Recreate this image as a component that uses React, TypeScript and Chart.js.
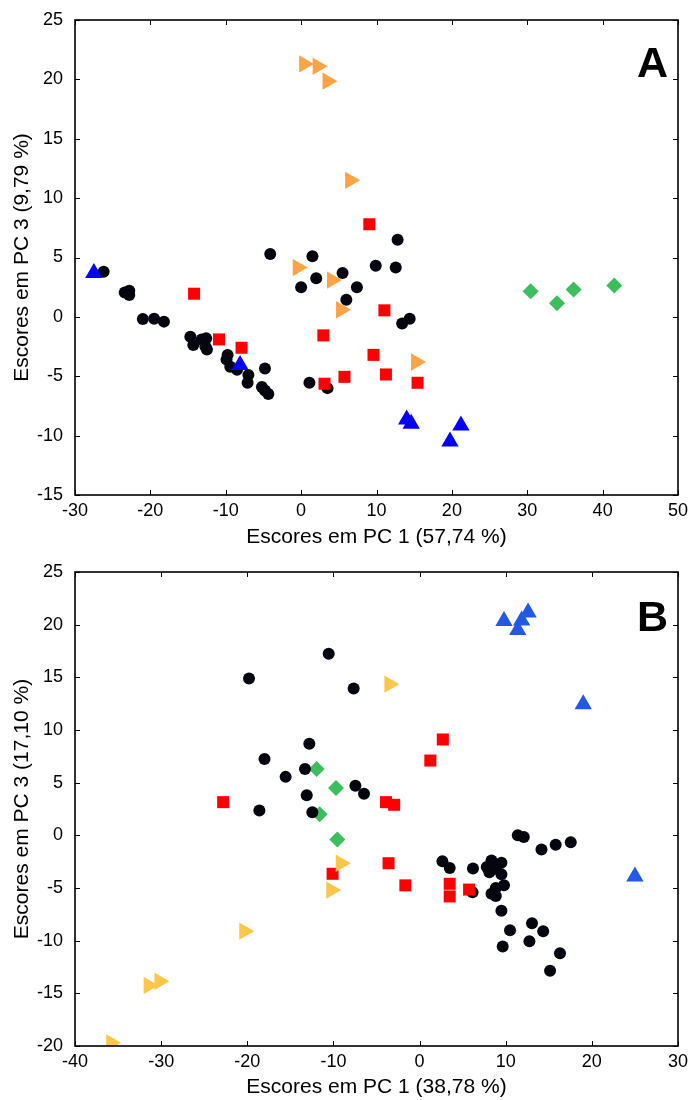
import React, { useEffect, useRef } from "react";
import { Chart, registerables } from "chart.js";

Chart.register(...registerables);

const FONT = "'Liberation Sans', Arial, Helvetica, sans-serif";

// ---------- Panel A ----------
const aTitleX = "Escores em PC 1 (57,74 %)";
const aTitleY = "Escores em PC 3 (9,79 %)";
const aXTicks = [-30, -20, -10, 0, 10, 20, 30, 40, 50];
const aYTicks = [-15, -10, -5, 0, 5, 10, 15, 20, 25];

const aBlackX = [-26.2, -23.4, -22.8, -22.8, -21.0, -19.5, -18.2, -14.7, -14.3, -13.2, -12.6, -12.5, -12.7, -9.75, -9.9, -9.4, -8.5, -7.0, -7.1, -4.8, -5.2, -4.8, -4.35, -4.1, 0.0, 1.5, 2.0, 5.5, 7.4, 6.0, 9.9, 12.55, 12.8, 14.4, 13.4, 1.1, 3.5];
const aBlackY = [3.8, 2.05, 2.2, 1.85, -0.18, -0.15, -0.4, -1.67, -2.37, -1.9, -1.8, -2.75, -2.5, -3.2, -3.6, -4.2, -4.45, -4.9, -5.55, -4.35, -5.9, -6.2, -6.5, 5.3, 2.5, 5.1, 3.25, 3.7, 2.5, 1.45, 4.3, 4.15, 6.5, -0.15, -0.55, -5.55, -6.0];

const aRedX = [-14.2, -10.9, -7.9, 9.05, 11.05, 2.95, 9.6, 11.25, 5.75, 3.1, 15.45];
const aRedY = [1.95, -1.9, -2.6, 7.8, 0.55, -1.56, -3.2, -4.85, -5.05, -5.63, -5.55];

const aOrangeX = [0.4, 2.2, 3.5, 6.5, -0.45, 4.1, 5.3, 15.25];
const aOrangeY = [21.3, 21.1, 19.85, 11.5, 4.15, 3.1, 0.6, -3.8];

const aBlueX = [-27.5, -8.1, 14.0, 14.6, 19.75, 21.2];
const aBlueY = [3.7, -4.05, -8.65, -9.0, -10.5, -9.15];

const aGreenX = [30.45, 33.95, 36.15, 41.55];
const aGreenY = [2.15, 1.15, 2.3, 2.65];

// ---------- Panel B ----------
const bTitleX = "Escores em PC 1 (38,78 %)";
const bTitleY = "Escores em PC 3 (17,10 %)";
const bXTicks = [-40, -30, -20, -10, 0, 10, 20, 30];
const bYTicks = [-20, -15, -10, -5, 0, 5, 10, 15, 20, 25];

const bBlackX = [-10.55, -19.8, -7.65, -12.8, -18.0, -13.3, -15.55, -7.45, -6.45, -13.1, -18.6, -12.45, 2.65, 3.5, 6.2, 6.15, 11.4, 12.1, 14.15, 15.8, 17.55, 8.35, 9.5, 7.8, 8.75, 8.1, 9.5, 9.8, 8.85, 8.35, 8.85, 9.5, 10.5, 13.05, 14.35, 9.65, 12.75, 16.3, 15.15];
const bBlackY = [17.25, 14.9, 13.95, 8.7, 7.25, 6.3, 5.55, 4.7, 3.95, 3.8, 2.35, 2.2, -2.45, -3.1, -3.15, -5.4, 0.0, -0.15, -1.35, -0.9, -0.65, -2.4, -2.6, -3.0, -3.15, -3.5, -3.7, -4.75, -5.0, -5.55, -5.75, -7.15, -9.0, -8.35, -9.1, -10.55, -10.05, -11.2, -12.85];

const bRedX = [-22.8, -3.9, -2.95, 2.7, 1.25, -3.6, -10.1, -1.65, 3.5, 3.5, 5.75];
const bRedY = [3.15, 3.15, 2.9, 9.1, 7.1, -2.65, -3.65, -4.75, -4.6, -5.8, -5.15];

const bYellowX = [-3.5, -9.15, -10.25, -20.35, -31.45, -30.2, -35.8];
const bYellowY = [14.35, -2.65, -5.2, -9.1, -14.25, -13.85, -19.7];

const bBlueX = [9.8, 11.4, 11.85, 12.6, 19.0, 25.0];
const bBlueY = [20.35, 19.5, 20.4, 21.15, 12.45, -3.9];

const bGreenX = [-11.95, -9.7, -11.6, -9.55];
const bGreenY = [6.3, 4.5, 2.0, -0.4];

const COL_BLACK = "#05050f";
const COL_RED = "#ff0000";
const COL_ORANGE = "#ffa347";
const COL_YELLOW = "#ffc64a";
const COL_BLUE_A = "#0000ff";
const COL_BLUE_B = "#2358e3";
const COL_GREEN = "#3cbe5c";

function pts(xs: number[], ys: number[]) {
  return xs.map((x, i) => ({ x, y: ys[i] }));
}

function ds(xs: number[], ys: number[], color: string, style: string, radius: number, rotation: number, order: number) {
  return {
    data: pts(xs, ys),
    pointStyle: style,
    pointRadius: radius,
    pointRotation: rotation,
    pointBackgroundColor: color,
    pointBorderColor: color,
    pointBorderWidth: 0,
    showLine: false,
    order,
  };
}

const framePlugin = {
  id: "frame",
  afterDraw(chart: any, _args: any, opts: any) {
    const { ctx, chartArea } = chart;
    const { left, right, top, bottom } = chartArea;
    const xs = chart.scales.x;
    const ys = chart.scales.y;
    ctx.save();
    ctx.strokeStyle = "#000";
    ctx.lineWidth = 1;
    const len = 5;
    ctx.beginPath();
    xs.ticks.forEach((t: any) => {
      const px = Math.round(xs.getPixelForValue(t.value)) + 0.5;
      ctx.moveTo(px, bottom);
      ctx.lineTo(px, bottom - len);
      ctx.moveTo(px, top);
      ctx.lineTo(px, top + len);
    });
    ys.ticks.forEach((t: any) => {
      const py = Math.round(ys.getPixelForValue(t.value)) + 0.5;
      ctx.moveTo(left, py);
      ctx.lineTo(left + len, py);
      ctx.moveTo(right, py);
      ctx.lineTo(right - len, py);
    });
    ctx.stroke();
    ctx.lineWidth = 1.6;
    ctx.strokeRect(left, top, right - left, bottom - top);
    ctx.fillStyle = "#000";
    ctx.font = `bold 43px ${FONT}`;
    ctx.textAlign = "right";
    ctx.textBaseline = "alphabetic";
    ctx.fillText(opts.letter, right - 10, top + opts.letterY);
    ctx.restore();
  },
};

type PanelProps = {
  datasets: any[];
  xMin: number; xMax: number; yMin: number; yMax: number;
  xTicks: number[]; yTicks: number[];
  titleX: string; titleY: string;
  letter: string; padTop: number; xHeight: number; letterY: number;
};

function Panel(p: PanelProps) {
  const ref = useRef<HTMLCanvasElement | null>(null);
  useEffect(() => {
    if (!ref.current) return;
    const chart = new Chart(ref.current, {
      type: "scatter",
      data: { datasets: p.datasets },
      plugins: [framePlugin as any],
      options: {
        responsive: false,
        animation: false,
        layout: { padding: { top: p.padTop, right: 12, left: 0, bottom: 0 } },
        plugins: {
          legend: { display: false },
          tooltip: { enabled: false },
          frame: { letter: p.letter, letterY: p.letterY },
        } as any,
        scales: {
          x: {
            type: "linear",
            min: p.xMin,
            max: p.xMax,
            afterBuildTicks: (s: any) => { s.ticks = p.xTicks.map((v) => ({ value: v })); },
            afterFit: (s: any) => { s.height = p.xHeight; },
            grid: { display: false },
            border: { display: false },
            ticks: { color: "#000", font: { family: FONT, size: 18 }, padding: -3, maxRotation: 0, autoSkip: false },
            title: { display: true, text: p.titleX, color: "#000", font: { family: FONT, size: 21 }, padding: { top: 0, bottom: 0 } },
          },
          y: {
            type: "linear",
            min: p.yMin,
            max: p.yMax,
            afterBuildTicks: (s: any) => { s.ticks = p.yTicks.map((v) => ({ value: v })); },
            afterFit: (s: any) => { s.width = 75; },
            grid: { display: false },
            border: { display: false },
            ticks: { color: "#000", font: { family: FONT, size: 18 }, padding: 4, autoSkip: false },
            title: { display: true, text: p.titleY, color: "#000", font: { family: FONT, size: 21 }, padding: { top: 10, bottom: 0 } },
          },
        },
      } as any,
    });
    return () => chart.destroy();
  }, []);
  return <canvas ref={ref} width={690} height={550} style={{ display: "block", width: 690, height: 550 }} />;
}

export default function App() {
  const dsA = [
    ds(aBlueX, aBlueY, COL_BLUE_A, "triangle", 10, 0, 0),
    ds(aOrangeX, aOrangeY, COL_ORANGE, "triangle", 10, 90, 1),
    ds(aRedX, aRedY, COL_RED, "rect", 8.5, 0, 2),
    ds(aBlackX, aBlackY, COL_BLACK, "circle", 6, 0, 3),
    ds(aGreenX, aGreenY, COL_GREEN, "rectRot", 8, 0, 4),
  ];
  const dsB = [
    ds(bBlueX, bBlueY, COL_BLUE_B, "triangle", 10, 0, 0),
    ds(bYellowX, bYellowY, COL_YELLOW, "triangle", 10, 90, 1),
    ds(bRedX, bRedY, COL_RED, "rect", 8.5, 0, 2),
    ds(bBlackX, bBlackY, COL_BLACK, "circle", 6, 0, 3),
    ds(bGreenX, bGreenY, COL_GREEN, "rectRot", 8, 0, 4),
  ];
  return (
    <div style={{ position: "absolute", left: 0, top: 0, width: 690, height: 1100, background: "#fff" }}>
      <Panel datasets={dsA} xMin={-30} xMax={50} yMin={-15} yMax={25} xTicks={aXTicks} yTicks={aYTicks}
        titleX={aTitleX} titleY={aTitleY} letter="A" padTop={20} xHeight={55} letterY={57} />
      <Panel datasets={dsB} xMin={-40} xMax={30} yMin={-20} yMax={25} xTicks={bXTicks} yTicks={bYTicks}
        titleX={bTitleX} titleY={bTitleY} letter="B" padTop={22} xHeight={54} letterY={59} />
    </div>
  );
}
